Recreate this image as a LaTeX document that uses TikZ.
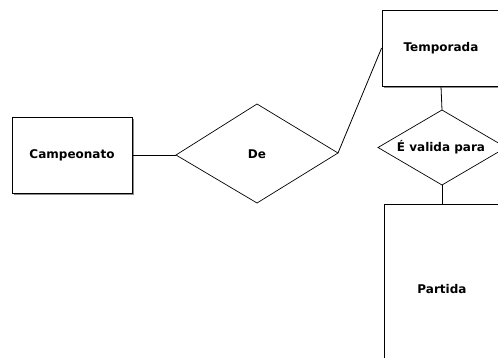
\documentclass[tikz,border=0pt]{standalone}
\usepackage{fontspec}
\setmainfont{DejaVu Sans}
\usetikzlibrary{shadows}
\begin{document}
\begin{tikzpicture}[x=1pt,y=-1pt,
  label font/.style={font=\fontsize{12}{14}\selectfont\bfseries},
  entity/.style={draw=black, line width=0.8pt, fill=white, rectangle, inner sep=0pt,
    label font,
    general shadow={fill=black!45, shadow xshift=2pt, shadow yshift=-2pt}},
  relation/.style={draw=black, line width=0.7pt, fill=white, line join=miter},
  reltext/.style={inner sep=0pt, label font},
  link/.style={draw=black, line width=0.8pt}]
\path[use as bounding box] (0,0) rectangle (498,358);
\clip (0,0) rectangle (498,358);
\fill[white] (0,0) rectangle (498,358);

% entities
\node[entity, minimum width=120pt, minimum height=76pt] (camp) at (72,155) {Campeonato};
\node[entity, minimum width=118pt, minimum height=76pt] (temp) at (441,48) {Temporada};
\node[entity, minimum width=116pt, minimum height=170pt] (part) at (442,289) {Partida};

% relationship "De"
\coordinate (de-w) at (176,155);
\coordinate (de-n) at (257,104);
\coordinate (de-e) at (338,153);
\coordinate (de-s) at (257,203);
\draw[relation] (de-w) -- (de-n) -- (de-e) -- (de-s) -- cycle;
\node[reltext] (de) at (257,154) {De};

% relationship "É valida para"
\coordinate (va-w) at (378,147.5);
\coordinate (va-n) at (442,110);
\coordinate (va-e) at (506,147.5);
\coordinate (va-s) at (442,185);
\draw[relation] (va-w) -- (va-n) -- (va-e) -- (va-s) -- cycle;
\node[reltext] (valida) at (441,147) {É valida para};

% connectors
\draw[link] (camp.east) -- (de-w);
\draw[link] (de-e) -- (temp.west);
\draw[link] (temp.south) -- (va-n);
\draw[link] (va-s) -- (part.north);
\end{tikzpicture}
\end{document}
